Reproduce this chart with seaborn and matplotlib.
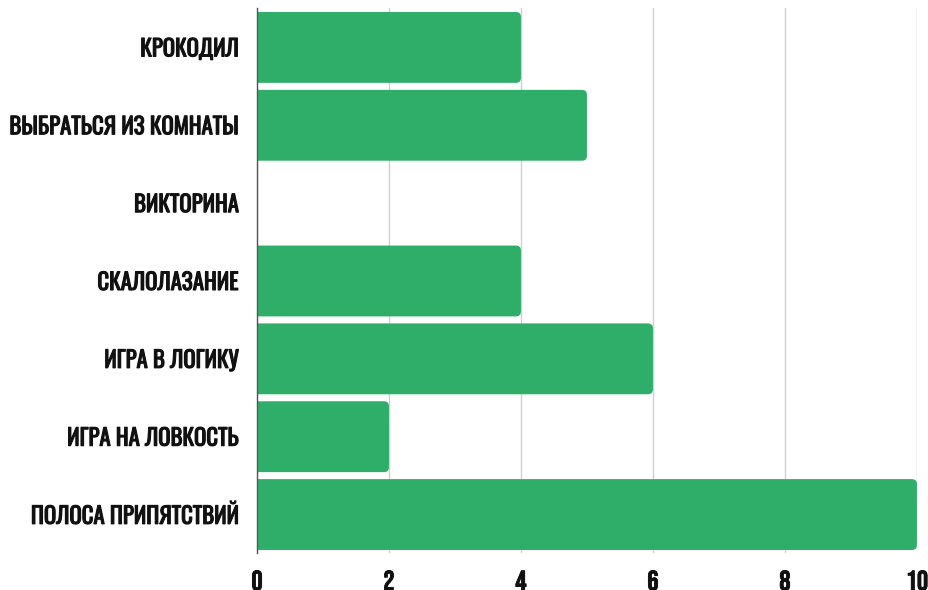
import matplotlib
matplotlib.use("Agg")
import matplotlib.pyplot as plt
import matplotlib.patheffects as pe
from matplotlib.patches import FancyBboxPatch
import seaborn as sns
import pandas as pd

categories = [
    "КРОКОДИЛ",
    "ВЫБРАТЬСЯ ИЗ КОМНАТЫ",
    "ВИКТОРИНА",
    "СКАЛОЛАЗАНИЕ",
    "ИГРА В ЛОГИКУ",
    "ИГРА НА ЛОВКОСТЬ",
    "ПОЛОСА ПРИПЯТСТВИЙ",
]
values = [4, 5, 0, 4, 6, 2, 10]
x_ticks = [0, 2, 4, 6, 8, 10]

bar_color = "#2eae69"
text_color = "#111111"
label_fonts = ["Oswald", "Roboto Condensed", "DejaVu Sans"]
number_fonts = ["Bebas Neue", "Oswald", "DejaVu Sans"]

sns.set_theme(style="white")
plt.rcParams["font.family"] = label_fonts

df = pd.DataFrame({"game": categories, "count": values})

fig = plt.figure(figsize=(9.29, 5.90), dpi=100)
ax = fig.add_axes([0.2766, 0.0619, 0.7104, 0.9237])

sns.barplot(data=df, y="game", x="count", color=bar_color, saturation=1,
            width=0.91, orient="h", ax=ax)

ax.set_xlim(0, 10)
ax.set_ylim(6.5, -0.5)

# Swap the plain rectangles for boxes with rounded right-hand corners;
# the left corners start past x=0 and are clipped away by the axes.
radius = 0.075
aspect = 0.84
for bar in list(ax.patches):
    x0, y0 = bar.get_x(), bar.get_y()
    w, h = bar.get_width(), bar.get_height()
    bar.remove()
    if w <= 0:
        continue
    box = FancyBboxPatch((x0 - 0.3, y0), w + 0.3, h,
                         boxstyle=f"round,pad=0,rounding_size={radius}",
                         mutation_aspect=aspect,
                         facecolor=bar_color, edgecolor="none", zorder=2,
                         clip_on=True)
    ax.add_patch(box)

ax.set_xticks(x_ticks)
ax.set_xticklabels([str(t) for t in x_ticks])
ax.grid(axis="x", color="#d0d0d0", linewidth=1)
ax.set_axisbelow(True)
ax.set_xlabel("")
ax.set_ylabel("")

for side in ["top", "right", "bottom"]:
    ax.spines[side].set_visible(False)
ax.spines["left"].set_color("#555555")
ax.spines["left"].set_linewidth(1)
ax.spines["left"].set_zorder(3)

ax.tick_params(axis="both", length=0)
ax.tick_params(axis="x", pad=12)
ax.tick_params(axis="y", pad=13)

# Heavier strokes for the condensed category labels
heavy = [pe.withStroke(linewidth=0.8, foreground=text_color)]
for lbl in ax.get_yticklabels():
    lbl.set_family(label_fonts)
    lbl.set_fontsize(16.4)
    lbl.set_fontweight("bold")
    lbl.set_color(text_color)
    lbl.set_path_effects(heavy)
for lbl in ax.get_xticklabels():
    lbl.set_family(number_fonts)
    lbl.set_fontsize(20)
    lbl.set_fontweight("bold")
    lbl.set_color(text_color)
    lbl.set_path_effects([pe.withStroke(linewidth=0.6, foreground=text_color)])

fig.savefig("out.png", dpi=100)
